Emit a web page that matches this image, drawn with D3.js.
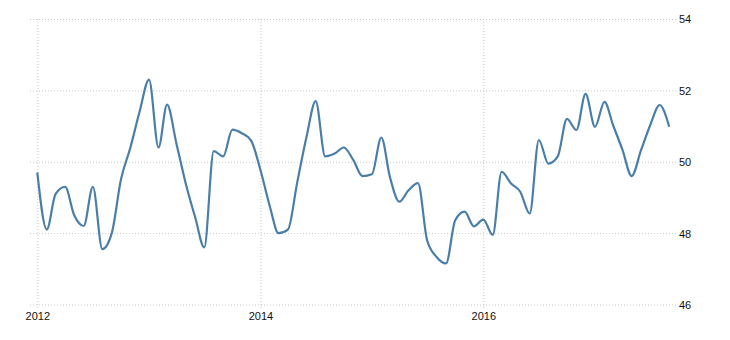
<!DOCTYPE html>
<html>
<head>
<meta charset="utf-8">
<script src="https://cdn.jsdelivr.net/npm/d3@7"></script>
<style>
  html, body { margin: 0; padding: 0; background: #fff; }
  svg text { font-family: "Liberation Sans", Arial, sans-serif; font-size: 11px; fill: #111; }
</style>
</head>
<body>
<svg id="chart" width="730" height="340"></svg>
<script>
"use strict";

// ---------------------------------------------------------------------------
// Data (monthly readings, Jan 2012 .. Sep 2017)
// ---------------------------------------------------------------------------

const startYear = 2012;
const values = [
  49.7, 48.1, 49.1, 49.3, 48.5, 48.2, 49.3, 47.55, 48.0, 49.5, 50.4, 51.4,
  52.3, 50.4, 51.6, 50.5, 49.4, 48.45, 47.6, 50.3, 50.15, 50.9, 50.8, 50.6,
  49.77, 48.74, 48.0, 48.1, 49.4, 50.7, 51.7, 50.15, 50.23, 50.4, 50.05, 49.6,
  49.65, 50.68, 49.58, 48.88, 49.2, 49.4, 47.8, 47.33, 47.15, 48.36, 48.6, 48.19,
  48.38, 47.95, 49.72, 49.39, 49.16, 48.55, 50.61, 49.95, 50.15, 51.2, 50.89, 51.9,
  50.98, 51.68, 51.03, 50.33, 49.6, 50.33, 51.03, 51.59, 50.98
];
const yTicks = [46, 48, 50, 52, 54];
const xTickYears = [2012, 2014, 2016];

const points = values.map((v, i) => ({ date: new Date(startYear, i, 1), value: v }));

// ---------------------------------------------------------------------------
// Scales
// ---------------------------------------------------------------------------

const svg = d3.select("#chart");

const x = d3.scaleTime()
  .domain([new Date(2012, 0, 1), new Date(2017, 8, 1)])
  .range([37.3, 669.2]);

const y = d3.scaleLinear()
  .domain([46, 54])
  .range([304.5, 19]);

const gridLeft = 29;
const gridRight = 676;

// ---------------------------------------------------------------------------
// Grid
// ---------------------------------------------------------------------------

const yAxis = d3.axisRight(y)
  .tickValues(yTicks)
  .tickSize(-(gridRight - gridLeft))
  .tickPadding(4)
  .tickFormat(d3.format("d"));

const yG = svg.append("g")
  .attr("transform", `translate(${gridRight},0)`)
  .call(yAxis);
yG.select(".domain").remove();
yG.selectAll(".tick line")
  .attr("stroke", "#c8c8c8")
  .attr("stroke-dasharray", "1,2");
yG.selectAll(".tick text")
  .attr("x", 3)
  .attr("dy", "0.36em")
  .attr("fill", "#111");

const xAxis = d3.axisBottom(x)
  .tickValues(xTickYears.map((yr) => new Date(yr, 0, 1)))
  .tickSize(y(46) - y(54) + 5)
  .tickPadding(3)
  .tickFormat(d3.timeFormat("%Y"));

const xG = svg.append("g")
  .attr("transform", `translate(0,${y(54)})`)
  .call(xAxis);
xG.select(".domain").remove();
xG.selectAll(".tick line")
  .attr("stroke", "#c8c8c8")
  .attr("stroke-dasharray", "1,2");
xG.selectAll(".tick text")
  .attr("fill", "#111");

// ---------------------------------------------------------------------------
// Line
// ---------------------------------------------------------------------------

const line = d3.line()
  .x((d) => x(d.date))
  .y((d) => y(d.value))
  .curve(d3.curveMonotoneX);

svg.append("path")
  .datum(points)
  .attr("fill", "none")
  .attr("stroke", "#4a7eaa")
  .attr("stroke-width", 2.2)
  .attr("stroke-linejoin", "round")
  .attr("d", line);
</script>
</body>
</html>
